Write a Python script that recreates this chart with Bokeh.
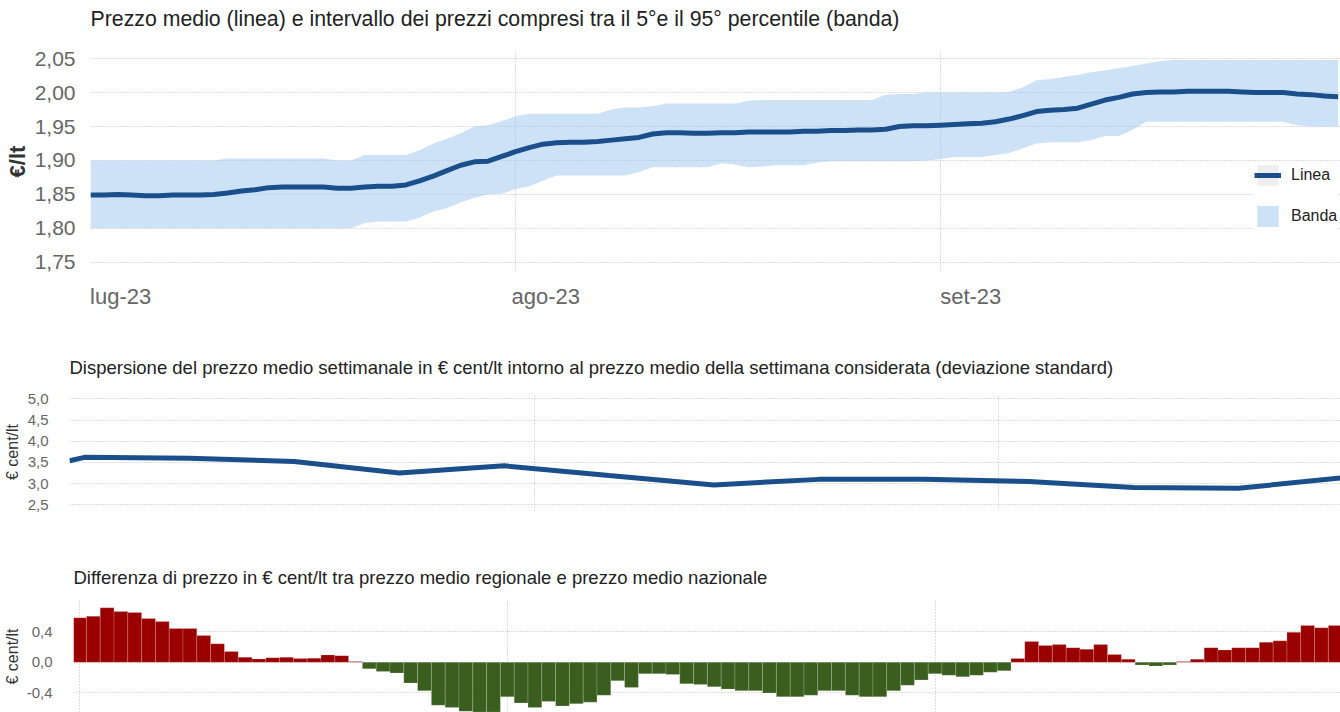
import pandas as pd
from bokeh.plotting import figure
from bokeh.layouts import column
from bokeh.models import (Range1d, FixedTicker, CustomJSTickFormatter,
                          Legend, LegendItem, Title)
from bokeh.embed import file_html
from bokeh.resources import INLINE

# ---------------- data ----------------
start_date = "2023-07-01"
month_starts = ["2023-07-01", "2023-08-01", "2023-09-01"]
month_labels = ["lug-23", "ago-23", "set-23"]

price_mean = [
    1.849, 1.849, 1.850, 1.849, 1.848, 1.848, 1.849, 1.849, 1.849, 1.850,
    1.852, 1.855, 1.857, 1.860, 1.861, 1.861, 1.861, 1.861, 1.859, 1.859,
    1.861, 1.862, 1.862, 1.864, 1.870, 1.877, 1.885, 1.893, 1.898, 1.899,
    1.906, 1.913, 1.919, 1.924, 1.926, 1.927, 1.927, 1.928, 1.930, 1.932,
    1.934, 1.939, 1.941, 1.941, 1.940, 1.940, 1.941, 1.941, 1.942, 1.942,
    1.942, 1.942, 1.943, 1.943, 1.944, 1.944, 1.945, 1.945, 1.946, 1.950,
    1.951, 1.951, 1.952, 1.953, 1.954, 1.955, 1.957, 1.961, 1.966, 1.972,
    1.974, 1.975, 1.977, 1.983, 1.989, 1.993, 1.998, 2.000, 2.001, 2.001,
    2.002, 2.002, 2.002, 2.002, 2.001, 2.000, 2.000, 2.000, 1.998, 1.997,
    1.995, 1.994,
]
price_p95 = (
    [1.900] * 10 + [1.903] * 8 + [1.900] * 2 + [1.908] * 4
    + [1.915, 1.925, 1.932, 1.940, 1.950, 1.952, 1.958]
    + [1.965] + [1.969] * 6
    + [1.975, 1.978, 1.978, 1.980, 1.984]
    + [1.984] * 5 + [1.988] + [1.989] * 9 + [1.997] + [1.998] * 2
    + [2.000] * 6 + [2.001]
    + [2.008, 2.018, 2.020, 2.023, 2.026, 2.030, 2.033, 2.036, 2.039, 2.043, 2.046]
    + [2.048] * 13
)
price_p5 = (
    [1.800] * 20 + [1.808] + [1.810] * 3
    + [1.816, 1.825, 1.830, 1.838, 1.845, 1.850, 1.851]
    + [1.858, 1.862, 1.870] + [1.878] * 6 + [1.883] + [1.890] * 5
    + [1.896, 1.894, 1.890, 1.891] + [1.893] * 3 + [1.897] + [1.899] * 7
    + [1.900, 1.902] + [1.905] * 3 + [1.908, 1.911, 1.918, 1.925]
    + [1.927] * 3 + [1.930, 1.936, 1.936, 1.945] + [1.957] * 11
    + [1.952] + [1.950] * 3
)

week_dates = ["2023-07-01", "2023-07-02", "2023-07-09", "2023-07-16", "2023-07-23",
              "2023-07-30", "2023-08-06", "2023-08-13", "2023-08-20", "2023-08-27",
              "2023-09-03", "2023-09-10", "2023-09-17", "2023-09-24"]
week_sd = [3.54, 3.62, 3.60, 3.52, 3.25, 3.42, 3.19, 2.97, 3.10, 3.10,
           3.05, 2.91, 2.89, 3.14]

diff_values = [
    0.58, 0.60, 0.71, 0.66, 0.65, 0.57, 0.53, 0.44, 0.44, 0.35,
    0.24, 0.14, 0.065, 0.043, 0.06, 0.065, 0.048, 0.052, 0.095, 0.086,
    0.01, -0.086, -0.12, -0.14, -0.27, -0.37, -0.56, -0.59, -0.64, -0.65,
    -0.65, -0.45, -0.53, -0.59, -0.51, -0.57, -0.54, -0.52, -0.43, -0.24,
    -0.33, -0.15, -0.15, -0.16, -0.28, -0.29, -0.32, -0.35, -0.37, -0.37,
    -0.40, -0.45, -0.45, -0.43, -0.37, -0.37, -0.43, -0.45, -0.45, -0.37,
    -0.30, -0.23, -0.15, -0.17, -0.19, -0.17, -0.13, -0.11, 0.05, 0.27,
    0.22, 0.23, 0.19, 0.17, 0.23, 0.10, 0.04, -0.035, -0.05, -0.035,
    0.01, 0.04, 0.19, 0.16, 0.19, 0.19, 0.26, 0.28, 0.39, 0.48,
    0.45, 0.48,
]

top_ticks = [1.75, 1.80, 1.85, 1.90, 1.95, 2.00, 2.05]
mid_ticks = [2.5, 3.0, 3.5, 4.0, 4.5, 5.0]
bot_ticks = [-0.4, 0.0, 0.4]

title_top = "Prezzo medio (linea) e intervallo dei prezzi compresi tra il 5°e il 95° percentile (banda)"
title_mid = ("Dispersione del prezzo medio settimanale in € cent/lt intorno al prezzo medio "
             "della settimana considerata (deviazione standard)")
title_bot = "Differenza di prezzo in € cent/lt tra prezzo medio regionale e prezzo medio nazionale"

# ---------------- styling ----------------
FONT = "Liberation Sans"
LINE_COLOR = "#1b4f8b"
BAND_COLOR = "#9bc5ef"
GRID_COLOR = "#bcbcbc"
TICK_COLOR = "#666666"
POS_COLOR = "#9b0000"
NEG_COLOR = "#3a5e1e"
DAY = 86400000.0
NAN = float("nan")


def ms(s):
    return pd.Timestamp(s).value / 1e6


days = [ms(d) for d in pd.date_range(start_date, periods=len(price_mean), freq="D")]
month_ms = [ms(m) for m in month_starts]
t0 = ms(start_date)


def style(p, title_size, title_standoff, ylabel, ylabel_size, ylabel_style, tick_size,
          decimals, ticks, standoff, label_standoff):
    p.title.text_font = FONT
    p.title.text_font_size = title_size
    p.title.text_font_style = "normal"
    p.title.text_color = "#222222"
    p.title.standoff = title_standoff
    p.outline_line_color = None
    p.background_fill_color = "white"
    p.border_fill_color = "white"
    p.yaxis.ticker = FixedTicker(ticks=ticks)
    p.yaxis.formatter = CustomJSTickFormatter(
        args=dict(d=decimals), code="return tick.toFixed(d).replace('.', ',');")
    p.yaxis.axis_label = ylabel
    p.yaxis.axis_label_text_font = FONT
    p.yaxis.axis_label_text_font_size = ylabel_size
    p.yaxis.axis_label_text_font_style = ylabel_style
    p.yaxis.axis_label_text_color = "#333333"
    p.yaxis.axis_label_standoff = label_standoff
    p.yaxis.major_label_text_font = FONT
    p.yaxis.major_label_text_font_size = tick_size
    p.yaxis.major_label_text_color = TICK_COLOR
    p.yaxis.major_label_standoff = standoff
    p.yaxis.axis_line_color = None
    p.yaxis.major_tick_line_color = None
    p.yaxis.minor_tick_line_color = None
    p.xgrid.ticker = FixedTicker(ticks=month_ms)
    for g in (p.xgrid, p.ygrid):
        g.grid_line_color = GRID_COLOR
        g.grid_line_dash = "1 2"
        g.grid_line_width = 1


# ---------------- top chart ----------------
p1 = figure(width=1340, height=330, x_axis_type="datetime",
            x_range=Range1d(t0, t0 + 91.17 * DAY), y_range=Range1d(1.735, 2.062),
            output_backend="svg", toolbar_location=None, title=title_top,
            frame_align=False,
            min_border_left=90, min_border_right=0, min_border_top=50, min_border_bottom=58)
style(p1, "21.3px", 4, "€/lt", "22px", "bold", "21px", 2, top_ticks, 9, 2)
# small empty spacer between title and frame
p1.add_layout(Title(text=" ", text_font_size="14px", standoff=0), "above")

band = p1.varea(x=days, y1=price_p5, y2=price_p95, fill_color=BAND_COLOR, fill_alpha=0.5)
# legend-only key background (NaN row: nothing is drawn in the plot)
key_bg = p1.quad(left=[NAN], right=[NAN], top=[NAN], bottom=[NAN],
                 fill_color="#efefef", line_color=None)
line = p1.line(x=days, y=price_mean, line_color=LINE_COLOR, line_width=5)

label_shift = 2.2 * DAY
p1.xaxis.ticker = FixedTicker(ticks=[m + label_shift for m in month_ms])
p1.xaxis.formatter = CustomJSTickFormatter(args=dict(labels=month_labels),
                                           code="return labels[index];")
p1.xaxis.major_label_text_font = FONT
p1.xaxis.major_label_text_font_size = "22px"
p1.xaxis.major_label_text_color = TICK_COLOR
p1.xaxis.major_label_standoff = 5
p1.xaxis.axis_line_color = None
p1.xaxis.major_tick_line_color = None
p1.xaxis.minor_tick_line_color = None

legend = Legend(items=[LegendItem(label="Linea", renderers=[key_bg, line]),
                       LegendItem(label="Banda", renderers=[band])],
                location=(1164, 43), glyph_width=27, glyph_height=26, spacing=15,
                padding=0, margin=0, label_standoff=10, border_line_color=None,
                background_fill_color="white", background_fill_alpha=1.0,
                label_text_font=FONT, label_text_font_size="16px",
                label_text_color="#222222")
p1.add_layout(legend)

# ---------------- middle chart ----------------
p2 = figure(width=1340, height=210, x_axis_type="datetime",
            x_range=Range1d(t0, t0 + 84.8 * DAY), y_range=Range1d(2.366, 5.125),
            output_backend="svg", toolbar_location=None, title=title_mid,
            frame_align=False,
            min_border_left=68, min_border_right=0, min_border_top=63, min_border_bottom=30)
style(p2, "18.5px", 32, "€ cent/lt", "16px", "normal", "15px", 1, mid_ticks, 15, 4)
p2.xaxis.visible = False
p2.line(x=[ms(d) for d in week_dates], y=week_sd, line_color=LINE_COLOR, line_width=5)

# ---------------- bottom chart ----------------
p3 = figure(width=1340, height=172, x_axis_type="datetime",
            x_range=Range1d(t0 - 0.435 * DAY, t0 + 91.38 * DAY), y_range=Range1d(-0.655, 0.805),
            output_backend="svg", toolbar_location=None, title=title_bot,
            frame_align=False,
            min_border_left=73, min_border_right=0, min_border_top=60, min_border_bottom=0)
style(p3, "18.5px", 26, "€ cent/lt", "16px", "normal", "15px", 1, bot_ticks, 15, 3)
p3.xaxis.visible = False
bar_colors = [POS_COLOR if v >= 0 else NEG_COLOR for v in diff_values]
p3.vbar(x=days, top=diff_values, bottom=0, width=DAY, fill_color=bar_colors,
        line_color="white", line_alpha=0.3, line_width=0.6)

layout = column(p1, p2, p3, spacing=0)
open("out.html", "w").write(file_html(layout, INLINE))
